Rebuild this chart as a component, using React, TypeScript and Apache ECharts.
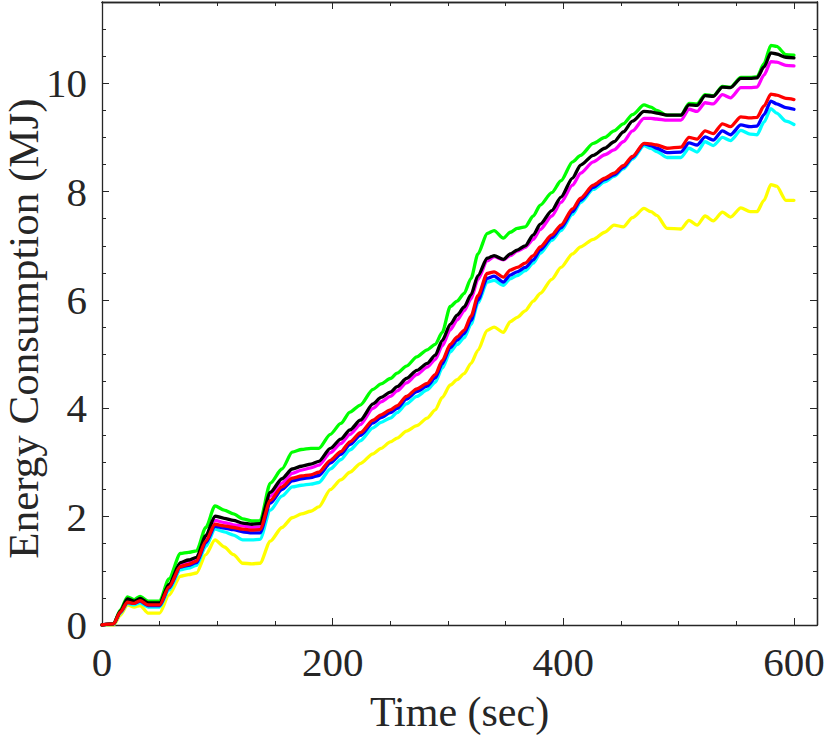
import React, { useEffect, useRef } from "react";
import * as echarts from "echarts";

const T = [0, 10, 16, 22, 28, 33, 40, 50, 58, 68, 75, 82, 90, 98, 106, 114, 122, 130, 137, 146, 156, 165, 173, 181, 188, 198, 207, 215, 224, 235, 242, 250, 256, 264, 273, 282, 289, 295, 302, 308, 314, 320, 326, 334, 340, 348, 354, 360, 367, 374, 380, 390, 398, 408, 415, 426, 436, 444, 452, 460, 470, 476, 481, 490, 502, 509, 516, 523, 530, 538, 545, 554, 562, 568, 574, 580, 585, 593, 600];

const green = [0, 0.02, 0.28, 0.52, 0.47, 0.53, 0.44, 0.44, 0.85, 1.32, 1.34, 1.37, 1.8, 2.2, 2.12, 2.05, 1.96, 1.92, 1.92, 2.62, 2.88, 3.19, 3.24, 3.26, 3.26, 3.52, 3.72, 3.93, 4.06, 4.35, 4.45, 4.55, 4.65, 4.78, 4.95, 5.08, 5.18, 5.4, 5.88, 5.98, 6.12, 6.4, 6.85, 7.23, 7.28, 7.14, 7.25, 7.32, 7.35, 7.55, 7.75, 7.98, 8.2, 8.55, 8.67, 8.89, 9.0, 9.12, 9.25, 9.42, 9.6, 9.56, 9.5, 9.41, 9.41, 9.63, 9.62, 9.79, 9.77, 9.94, 9.93, 10.11, 10.11, 10.12, 10.36, 10.7, 10.68, 10.53, 10.52];

const black = [0, 0.02, 0.26, 0.48, 0.44, 0.49, 0.41, 0.41, 0.75, 1.15, 1.2, 1.25, 1.65, 2.01, 1.97, 1.93, 1.88, 1.86, 1.87, 2.45, 2.7, 2.88, 2.93, 2.97, 3.02, 3.26, 3.43, 3.6, 3.78, 4.08, 4.2, 4.3, 4.4, 4.55, 4.7, 4.83, 4.98, 5.25, 5.55, 5.72, 5.87, 6.1, 6.45, 6.77, 6.82, 6.75, 6.85, 6.92, 7.0, 7.2, 7.4, 7.65, 7.9, 8.25, 8.49, 8.67, 8.8, 8.92, 9.1, 9.3, 9.48, 9.47, 9.45, 9.41, 9.41, 9.6, 9.59, 9.77, 9.76, 9.93, 9.92, 10.09, 10.09, 10.1, 10.3, 10.56, 10.54, 10.48, 10.47];

const magenta = [0, 0.02, 0.26, 0.46, 0.43, 0.47, 0.4, 0.4, 0.73, 1.12, 1.17, 1.22, 1.6, 1.93, 1.89, 1.85, 1.83, 1.8, 1.81, 2.38, 2.62, 2.8, 2.86, 2.9, 2.95, 3.18, 3.35, 3.52, 3.7, 4.0, 4.12, 4.22, 4.32, 4.47, 4.62, 4.76, 4.9, 5.15, 5.45, 5.63, 5.8, 6.02, 6.38, 6.72, 6.8, 6.74, 6.82, 6.9, 6.97, 7.12, 7.3, 7.55, 7.8, 8.12, 8.34, 8.55, 8.68, 8.77, 8.92, 9.12, 9.35, 9.35, 9.34, 9.32, 9.32, 9.52, 9.48, 9.64, 9.62, 9.79, 9.73, 9.92, 9.92, 9.93, 10.15, 10.4, 10.39, 10.33, 10.32];

const red = [0, 0.02, 0.24, 0.42, 0.4, 0.45, 0.37, 0.37, 0.7, 1.08, 1.12, 1.18, 1.55, 1.86, 1.83, 1.8, 1.77, 1.75, 1.76, 2.3, 2.55, 2.71, 2.75, 2.77, 2.82, 3.04, 3.2, 3.38, 3.55, 3.78, 3.88, 3.97, 4.05, 4.22, 4.36, 4.46, 4.62, 4.88, 5.18, 5.32, 5.44, 5.7, 6.08, 6.49, 6.52, 6.42, 6.55, 6.6, 6.68, 6.82, 6.98, 7.2, 7.38, 7.68, 7.88, 8.12, 8.25, 8.34, 8.48, 8.65, 8.89, 8.88, 8.86, 8.8, 8.82, 9.0, 8.97, 9.12, 9.07, 9.25, 9.2, 9.38, 9.36, 9.37, 9.58, 9.8, 9.78, 9.72, 9.7];

const blue = [0, 0.02, 0.24, 0.42, 0.4, 0.44, 0.36, 0.36, 0.68, 1.07, 1.1, 1.15, 1.52, 1.82, 1.79, 1.76, 1.72, 1.7, 1.7, 2.25, 2.5, 2.66, 2.7, 2.72, 2.76, 2.99, 3.15, 3.33, 3.5, 3.73, 3.83, 3.92, 4.0, 4.17, 4.31, 4.41, 4.56, 4.82, 5.12, 5.26, 5.38, 5.62, 6.0, 6.4, 6.44, 6.33, 6.46, 6.52, 6.6, 6.74, 6.92, 7.15, 7.33, 7.63, 7.84, 8.08, 8.22, 8.31, 8.45, 8.63, 8.88, 8.85, 8.8, 8.72, 8.73, 8.9, 8.86, 9.01, 8.95, 9.12, 9.05, 9.23, 9.2, 9.21, 9.42, 9.67, 9.62, 9.55, 9.52];

const cyan = [0, 0.01, 0.22, 0.4, 0.37, 0.41, 0.33, 0.33, 0.64, 1.02, 1.05, 1.1, 1.45, 1.77, 1.72, 1.66, 1.57, 1.57, 1.58, 2.12, 2.38, 2.55, 2.58, 2.6, 2.63, 2.88, 3.05, 3.23, 3.4, 3.64, 3.74, 3.82, 3.92, 4.08, 4.22, 4.34, 4.48, 4.74, 5.04, 5.18, 5.3, 5.55, 5.94, 6.33, 6.36, 6.27, 6.39, 6.45, 6.54, 6.68, 6.86, 7.1, 7.28, 7.58, 7.8, 8.04, 8.18, 8.28, 8.42, 8.6, 8.85, 8.8, 8.74, 8.63, 8.63, 8.8, 8.73, 8.92, 8.85, 9.0, 8.94, 9.13, 9.06, 9.05, 9.28, 9.53, 9.45, 9.3, 9.24];

const yellow = [0, 0, 0.18, 0.37, 0.33, 0.36, 0.22, 0.22, 0.55, 0.9, 0.93, 0.96, 1.3, 1.57, 1.44, 1.3, 1.14, 1.13, 1.14, 1.55, 1.8, 1.98, 2.05, 2.1, 2.18, 2.5, 2.68, 2.82, 2.98, 3.16, 3.26, 3.38, 3.45, 3.58, 3.68, 3.82, 3.97, 4.2, 4.43, 4.53, 4.64, 4.83, 5.07, 5.44, 5.5, 5.4, 5.6, 5.68, 5.8, 5.98, 6.12, 6.38, 6.6, 6.85, 6.98, 7.12, 7.25, 7.38, 7.35, 7.52, 7.69, 7.63, 7.56, 7.32, 7.31, 7.47, 7.38, 7.55, 7.46, 7.62, 7.53, 7.7, 7.63, 7.63, 7.84, 8.13, 8.1, 7.84, 7.84];

const xMajorTicks = [0, 200, 400, 600];
const xMinorTicks = [50, 100, 150, 250, 300, 350, 450, 500, 550];
const yMajorTicks = [0, 2, 4, 6, 8, 10];
const yMinorTicks = [0.5, 1, 1.5, 2.5, 3, 3.5, 4.5, 5, 5.5, 6.5, 7, 7.5, 8.5, 9, 9.5, 10.5, 11];

const X_MAX = 620;
const Y_MAX = 11.5;

const seriesDefs: { name: string; color: string; data: number[] }[] = [
  { name: "Yellow", color: "#ffff00", data: yellow },
  { name: "Cyan", color: "#00ffff", data: cyan },
  { name: "Blue", color: "#0000ff", data: blue },
  { name: "Magenta", color: "#ff00ff", data: magenta },
  { name: "Green", color: "#00ff00", data: green },
  { name: "Black", color: "#000000", data: black },
  { name: "Red", color: "#ff0000", data: red },
];

const AX = "#262626";
const FONT = "Liberation Serif";

export default function App() {
  const ref = useRef<HTMLDivElement>(null);
  useEffect(() => {
    if (!ref.current) return;
    const chart = echarts.init(ref.current, undefined, { renderer: "svg" });
    const mkX = (pos: "bottom" | "top", ticks: number[], len: number, main: boolean) => ({
      type: "value",
      position: pos,
      min: 0,
      max: X_MAX,
      name: main ? "Time (sec)" : "",
      nameLocation: "middle",
      nameGap: 66,
      nameMoveOverlap: false,
      nameTextStyle: { fontFamily: FONT, fontSize: 42, color: AX },
      axisLine: { show: main || pos === "top", onZero: false, lineStyle: { color: AX, width: 1.3 } },
      axisTick: { show: true, inside: true, length: len, customValues: ticks, lineStyle: { color: AX, width: 1 } },
      axisLabel: main
        ? { show: true, customValues: xMajorTicks, margin: 16, fontFamily: FONT, fontSize: 41, color: AX }
        : { show: false },
      splitLine: { show: false },
    });
    const mkY = (pos: "left" | "right", ticks: number[], len: number, main: boolean) => ({
      type: "value",
      position: pos,
      min: 0,
      max: Y_MAX,
      name: main ? "Energy Consumption (MJ)" : "",
      nameLocation: "middle",
      nameGap: 57,
      nameMoveOverlap: false,
      nameTextStyle: { fontFamily: FONT, fontSize: 43, color: AX, padding: [0, 30, 0, 0] },
      axisLine: { show: main || pos === "right", onZero: false, lineStyle: { color: AX, width: 1.3 } },
      axisTick: { show: true, inside: true, length: len, customValues: ticks, lineStyle: { color: AX, width: 1 } },
      axisLabel: main
        ? { show: true, customValues: yMajorTicks, margin: 15, fontFamily: FONT, fontSize: 41, color: AX }
        : { show: false },
      splitLine: { show: false },
    });
    chart.setOption({
      animation: false,
      backgroundColor: "#ffffff",
      grid: { left: 102, right: 13, top: 2, bottom: 113, containLabel: false, outerBoundsMode: "none" },
      xAxis: [
        mkX("bottom", xMajorTicks, 7, true),
        mkX("bottom", xMinorTicks, 4, false),
        mkX("top", xMajorTicks, 7, false),
        mkX("top", xMinorTicks, 4, false),
      ],
      yAxis: [
        mkY("left", yMajorTicks, 7, true),
        mkY("left", yMinorTicks, 4, false),
        mkY("right", yMajorTicks, 7, false),
        mkY("right", yMinorTicks, 4, false),
      ],
      series: seriesDefs.map((s) => ({
        name: s.name,
        type: "line",
        xAxisIndex: 0,
        yAxisIndex: 0,
        data: T.map((t, i) => [t, s.data[i]]),
        showSymbol: false,
        symbol: "none",
        smooth: 0.25,
        smoothMonotone: "x",
        lineStyle: { color: s.color, width: 3.3, join: "round", cap: "round" },
        itemStyle: { color: s.color },
      })),
    });
    return () => chart.dispose();
  }, []);
  return (
    <div
      ref={ref}
      style={{ position: "fixed", left: 0, top: 0, width: 830, height: 738, background: "#fff" }}
    />
  );
}
